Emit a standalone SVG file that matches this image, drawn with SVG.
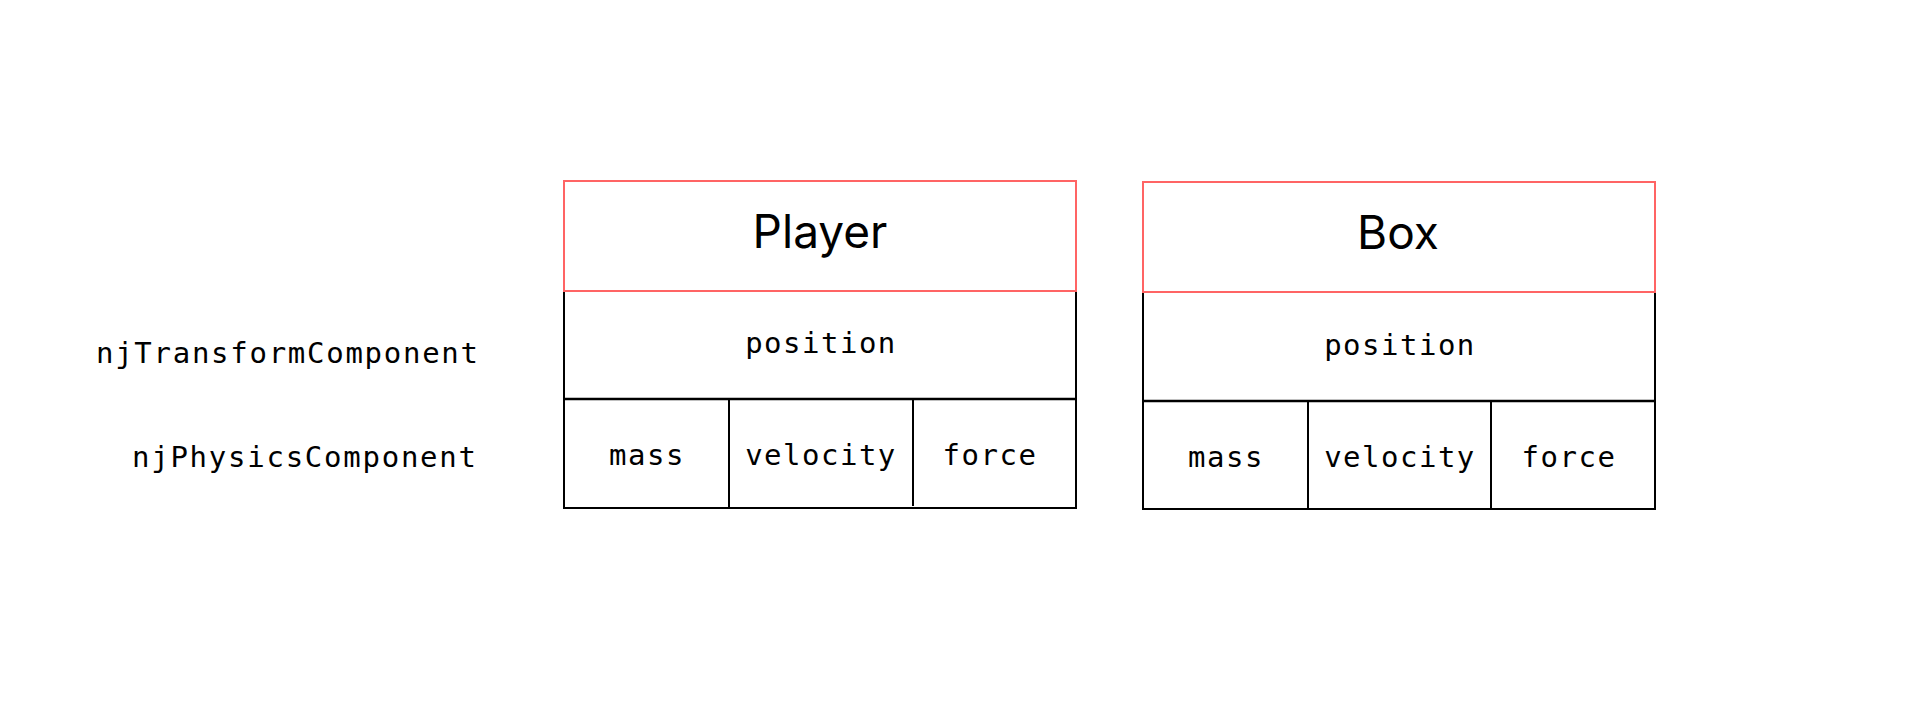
<svg xmlns="http://www.w3.org/2000/svg" width="1920" height="718" viewBox="0 0 1920 718">
<style>
.bg{fill:#ffffff}
.title{fill:none;stroke:#ff6464;stroke-width:2}
.cell{fill:none;stroke:#000;stroke-width:2}
.mid{stroke:#000;stroke-width:2.6}
.div{stroke:#000;stroke-width:2}
.mono{font-family:"DejaVu Sans Mono","Liberation Mono",monospace;font-size:29px;fill:#000}
.sans{font-family:Inter,"Liberation Sans",sans-serif;font-size:46px;fill:#000;text-anchor:middle}
.c{text-anchor:middle}
</style>
<rect class="bg" x="0" y="0" width="1920" height="718"/>
<g id="labels">
<text class="mono" x="96" y="363" textLength="382" lengthAdjust="spacing">njTransformComponent</text>
<text class="mono" x="132" y="467" textLength="344" lengthAdjust="spacing">njPhysicsComponent</text>
</g>
<g id="player">
<rect class="cell" x="564" y="291" width="512" height="217"/>
<line class="mid" x1="564" y1="399" x2="1076" y2="399"/>
<line class="div" x1="729" y1="399" x2="729" y2="508"/>
<line class="div" x1="913" y1="399" x2="913" y2="506"/>
<rect class="title" x="564" y="181" width="512" height="110"/>
<text class="sans" x="820" y="248">Player</text>
<text class="mono c" x="821" y="353" letter-spacing="1.5">position</text>
<text class="mono c" x="647" y="465" letter-spacing="1.5">mass</text>
<text class="mono c" x="821" y="465" letter-spacing="1.5">velocity</text>
<text class="mono c" x="990" y="465" letter-spacing="1.5">force</text>
</g>
<g id="box">
<rect class="cell" x="1143" y="292" width="512" height="217"/>
<line class="mid" x1="1143" y1="401" x2="1655" y2="401"/>
<line class="div" x1="1308" y1="401" x2="1308" y2="509"/>
<line class="div" x1="1491" y1="401" x2="1491" y2="508"/>
<rect class="title" x="1143" y="182" width="512" height="110"/>
<text class="sans" x="1398" y="249">Box</text>
<text class="mono c" x="1400" y="355" letter-spacing="1.5">position</text>
<text class="mono c" x="1226" y="467" letter-spacing="1.5">mass</text>
<text class="mono c" x="1400" y="467" letter-spacing="1.5">velocity</text>
<text class="mono c" x="1569" y="467" letter-spacing="1.5">force</text>
</g>
<g id="connectors"></g>
</svg>
